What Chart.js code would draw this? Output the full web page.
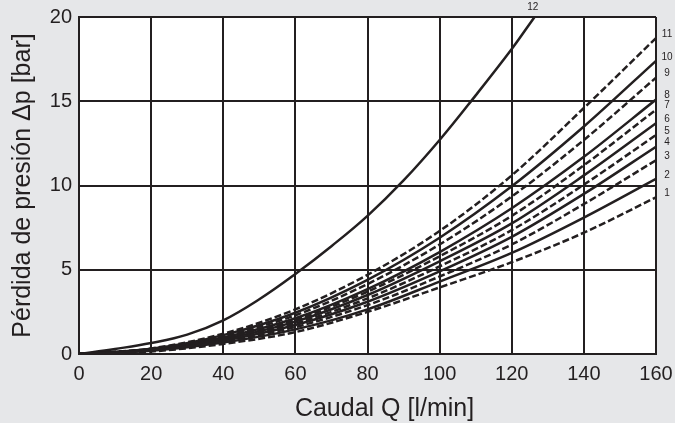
<!DOCTYPE html>
<html>
<head>
<meta charset="utf-8">
<script src="https://cdn.jsdelivr.net/npm/chart.js@4/dist/chart.umd.min.js"></script>
<style>
  html, body { margin: 0; padding: 0; background: #e6e7e9; }
  #wrap { width: 675px; height: 423px; }
</style>
</head>
<body>
<div id="wrap"><canvas id="chart" width="675" height="423"></canvas></div>
<script>
// caudal Q [l/min] where the curves were read
const flow = [0, 20, 40, 60, 80, 100, 120, 140, 160];

// pressure drop [bar] for curves 1..11 (odd = dashed, even = solid)
const curve1 = [0, 0.15, 0.6, 1.3, 2.5, 3.95, 5.45, 7.2, 9.3];
const curve2 = [0, 0.19, 0.68, 1.46, 2.65, 4.3, 6.0, 8.1, 10.4];
const curve3 = [0, 0.21, 0.75, 1.6, 2.9, 4.6, 6.5, 8.9, 11.5];
const curve4 = [0, 0.22, 0.8, 1.72, 3.1, 4.9, 6.95, 9.5, 12.3];
const curve5 = [0, 0.23, 0.85, 1.82, 3.3, 5.2, 7.35, 10.05, 13.0];
const curve6 = [0, 0.25, 0.89, 1.92, 3.5, 5.5, 7.75, 10.6, 13.7];
const curve7 = [0, 0.26, 0.94, 2.03, 3.7, 5.8, 8.2, 11.2, 14.5];
const curve8 = [0, 0.27, 0.98, 2.12, 3.85, 6.05, 8.65, 11.7, 15.1];
const curve9 = [0, 0.29, 1.05, 2.3, 4.15, 6.5, 9.35, 12.7, 16.4];
const curve10 = [0, 0.31, 1.12, 2.45, 4.4, 6.9, 9.95, 13.5, 17.4];
const curve11 = [0, 0.33, 1.2, 2.65, 4.7, 7.3, 10.6, 14.6, 18.75];

// curve 12 runs off the top of the chart
const flow12 = [0, 10, 20, 30, 40, 50, 60, 70, 80, 90, 100, 110, 120, 125, 130];
const curve12 = [0, 0.3, 0.65, 1.15, 2.0, 3.25, 4.75, 6.4, 8.2, 10.3, 12.7, 15.35, 18.1, 19.6, 21.1];

const curveLabels = ['1', '2', '3', '4', '5', '6', '7', '8', '9', '10', '11', '12'];
const xTicks = [0, 20, 40, 60, 80, 100, 120, 140, 160];
const yTicks = [0, 5, 10, 15, 20];
const xTitle = 'Caudal Q [l/min]';
const yTitle = 'Pérdida de presión Δp [bar]';

const ink = '#231f20';
const font = 'Arial, "Liberation Sans", sans-serif';

const lowCurves = [curve1, curve2, curve3, curve4, curve5, curve6, curve7, curve8, curve9, curve10, curve11];

const datasets = lowCurves.map((vals, i) => ({
  label: curveLabels[i],
  data: flow.map((q, j) => ({ x: q, y: vals[j] })),
  borderColor: ink,
  borderWidth: 2.5,
  borderDash: i % 2 === 0 ? [7, 3] : [],
  pointRadius: 0,
  cubicInterpolationMode: 'monotone',
  fill: false,
  clip: 0
}));
datasets.push({
  label: curveLabels[11],
  data: flow12.map((q, j) => ({ x: q, y: curve12[j] })),
  borderColor: ink,
  borderWidth: 2.5,
  pointRadius: 0,
  tension: 0.4,
  fill: false,
  clip: 0
});

const backdrop = {
  id: 'backdrop',
  beforeDraw(chart) {
    const { ctx, chartArea: a } = chart;
    ctx.save();
    ctx.fillStyle = '#e6e7e9';
    ctx.fillRect(0, 0, chart.width, chart.height);
    ctx.fillStyle = '#ffffff';
    ctx.fillRect(a.left, a.top, a.right - a.left, a.bottom - a.top);
    ctx.restore();
  }
};

const endLabels = {
  id: 'endLabels',
  afterDatasetsDraw(chart) {
    const { ctx, scales: { x, y } } = chart;
    ctx.save();
    ctx.fillStyle = ink;
    ctx.font = '10px ' + font;
    ctx.textAlign = 'center';
    ctx.textBaseline = 'middle';
    lowCurves.forEach((vals, i) => {
      const last = vals[vals.length - 1];
      ctx.fillText(curveLabels[i], x.getPixelForValue(160) + 11, y.getPixelForValue(last) - 4);
    });
    ctx.textBaseline = 'alphabetic';
    ctx.fillText(curveLabels[11], x.getPixelForValue(125) + 3, 10);
    // x axis title, sits a little right of centre in the original
    ctx.font = '25px ' + font;
    ctx.textBaseline = 'middle';
    ctx.fillText(xTitle, (chart.chartArea.left + chart.chartArea.right) / 2 + 17, 409);
    ctx.restore();
  }
};

new Chart(document.getElementById('chart'), {
  type: 'line',
  data: { datasets },
  options: {
    responsive: false,
    animation: false,
    layout: { padding: { top: 17, right: 19, left: 0, bottom: 0 } },
    plugins: { legend: { display: false }, tooltip: { enabled: false } },
    scales: {
      x: {
        type: 'linear',
        min: 0,
        max: 160,
        afterBuildTicks: s => { s.ticks = xTicks.map(v => ({ value: v })); },
        afterFit: s => { s.height = 69; s.paddingLeft = 0; s.paddingRight = 0; },
        ticks: { color: ink, font: { family: font, size: 20 }, padding: 8 },
        grid: { color: ink, lineWidth: 2, drawTicks: false },
        border: { color: ink, width: 2 }
      },
      y: {
        type: 'linear',
        min: 0,
        max: 20,
        afterBuildTicks: s => { s.ticks = yTicks.map(v => ({ value: v })); },
        afterFit: s => { s.width = 79; s.paddingTop = 0; s.paddingBottom = 0; },
        ticks: { color: ink, font: { family: font, size: 20 }, padding: 7 },
        grid: { color: ink, lineWidth: 2, drawTicks: false },
        border: { color: ink, width: 2 },
        title: { display: true, text: yTitle, color: ink, font: { family: font, size: 25 }, padding: { top: 8, bottom: 0 } }
      }
    }
  },
  plugins: [backdrop, endLabels]
});
</script>
</body>
</html>
